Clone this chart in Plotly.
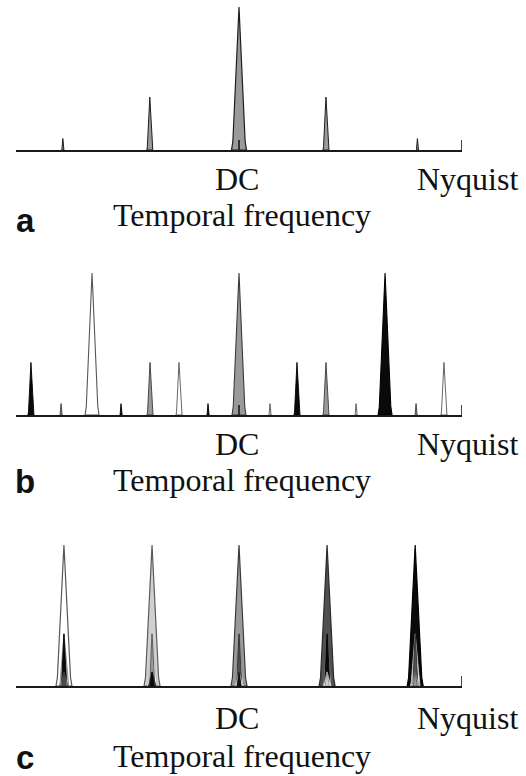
import plotly.graph_objects as go

# ---------------- data ----------------
TICK_VALS = [0.0, 1.0]
TICK_TEXT = ["DC", "Nyquist"]
AXIS_TITLE = "Temporal frequency"
PANEL_LETTERS = ["a", "b", "c"]

# panel a: DC peak with its harmonics
A_POS = [-0.79, -0.40, 0.0, 0.39, 0.80]
A_HEIGHT = [0.08, 0.37, 1.0, 0.37, 0.08]
A_COLOUR = ["grey", "grey", "grey", "grey", "grey"]

# panel b: three components (white, grey, black) with their side peaks
B_POS = [-0.933, -0.798, -0.659, -0.529, -0.399, -0.269, -0.139, 0.0,
         0.139, 0.260, 0.390, 0.525, 0.655, 0.794, 0.919]
B_HEIGHT = [0.37, 0.08, 1.0, 0.08, 0.37, 0.37, 0.08, 1.0,
            0.08, 0.37, 0.37, 0.08, 1.0, 0.08, 0.37]
B_COLOUR = ["black", "grey", "white", "black", "grey", "white", "black", "grey",
            "white", "black", "grey", "white", "black", "grey", "white"]

# panel c: five components superimposed at five frequencies
C_POS = [-0.785, -0.39, 0.0, 0.395, 0.79]
C_TALL_COLOUR = ["white", "lightgrey", "grey", "darkgrey", "black"]
C_MEDIUM_COLOURS = [["lightgrey", "black"], ["white", "grey"], ["lightgrey", "darkgrey"],
                    ["grey", "black"], ["white", "darkgrey"]]
C_TINY_COLOURS = [["grey", "darkgrey"], ["darkgrey", "black"], ["white", "black"],
                  ["white", "lightgrey"], ["lightgrey", "grey"]]
C_TALL_H = 1.0
C_MEDIUM_H = 0.37
C_TINY_H = 0.10

# ---------------- style ----------------
W, H = 526, 776
X_LEFT_PX, X_RIGHT_PX = 16, 462
PX_PER_UNIT = (X_RIGHT_PX - X_LEFT_PX) / 2.0
AXIS_PX = [150, 415, 686]      # vertical position of each baseline
TOP_PX = [7, 273, 545]         # apex of tallest peak
DC_OFF = [42, 42, 45]          # baseline offsets of the texts below each axis
TITLE_OFF = [78, 78, 83]
LETTER_OFF = [84, 80, 85]
YMAX = 1.04
FILL = {"white": "#ffffff", "lightgrey": "#d0d0d0", "grey": "#9a9a9a",
        "darkgrey": "#505050", "black": "#0a0a0a"}
EDGE = {"white": "#555555", "lightgrey": "#5a5a5a", "grey": "#3a3a3a",
        "darkgrey": "#2a2a2a", "black": "#000000"}
EDGE_C = {"white": "#bdbdbd", "lightgrey": "#8a8a8a", "grey": "#555555",
          "darkgrey": "#2e2e2e", "black": "#000000"}
SERIF = "Liberation Serif, Times New Roman, serif"
SANS = "Liberation Sans, Arial, sans-serif"


def halfwidth(h, big=7.5, mid=3.0, small=1.1):
    if h >= 0.9:
        return big / PX_PER_UNIT
    if h >= 0.2:
        return mid / PX_PER_UNIT
    return small / PX_PER_UNIT


def peak_trace(c, h, colour, w, axis_idx, lw=1.2, edge=None):
    xs = [c - w, c - 0.82 * w, c, c + 0.82 * w, c + w, c - w]
    ys = [0, 0.06 * h, h, 0.06 * h, 0, 0]
    suffix = "" if axis_idx == 1 else str(axis_idx)
    return go.Scatter(x=xs, y=ys, mode="lines", fill="toself",
                      fillcolor=FILL[colour],
                      line=dict(color=edge or "#1e1e1e", width=lw),
                      xaxis="x" + suffix, yaxis="y" + suffix,
                      hoverinfo="skip", showlegend=False)


fig = go.Figure()

# panel a
for p, h, c in zip(A_POS, A_HEIGHT, A_COLOUR):
    fig.add_trace(peak_trace(p, h, c, halfwidth(h), 1, lw=1.2 if h > 0.9 else 1.0))

# panel b
for p, h, c in zip(B_POS, B_HEIGHT, B_COLOUR):
    lw = 1.1 if h > 0.9 else 0.9
    fig.add_trace(peak_trace(p, h, c, halfwidth(h, big=7.0), 2, lw=lw, edge=EDGE[c]))

# panel c
for p, c in zip(C_POS, C_TALL_COLOUR):
    fig.add_trace(peak_trace(p, C_TALL_H, c, 8.0 / PX_PER_UNIT, 3, lw=1.2, edge=EDGE[c]))
for p, cols in zip(C_POS, C_MEDIUM_COLOURS):
    for k, c in enumerate(cols):
        fig.add_trace(peak_trace(p, C_MEDIUM_H, c, (4.8 - 2.0 * k) / PX_PER_UNIT, 3,
                                 lw=0.9, edge=EDGE_C[c]))
for p, cols in zip(C_POS, C_TINY_COLOURS):
    for k, c in enumerate(cols):
        fig.add_trace(peak_trace(p, C_TINY_H, c, (4.0 - 1.8 * k) / PX_PER_UNIT, 3,
                                 lw=0.8, edge=EDGE_C[c]))

layout = dict(width=W, height=H, margin=dict(l=0, r=0, t=0, b=0),
              paper_bgcolor="white", plot_bgcolor="rgba(0,0,0,0)", showlegend=False)
shapes = []
annotations = []
for i in range(3):
    suffix = "" if i == 0 else str(i + 1)
    ax_px, top_px = AXIS_PX[i], TOP_PX[i]
    unit = ax_px - top_px
    dom = [1 - ax_px / H, 1 - (ax_px - unit * YMAX) / H]
    layout["xaxis" + suffix] = dict(domain=[X_LEFT_PX / W, X_RIGHT_PX / W], range=[-1, 1],
                                    anchor="y" + suffix, showgrid=False, zeroline=False,
                                    showticklabels=False, ticks="", showline=True,
                                    linecolor="#1a1a1a", linewidth=2, fixedrange=True)
    layout["yaxis" + suffix] = dict(domain=dom, range=[0, YMAX], anchor="x" + suffix,
                                    visible=False, fixedrange=True)
    for tv in TICK_VALS:
        shapes.append(dict(type="line", xref="x" + suffix, yref="y" + suffix,
                           x0=tv, x1=tv, ysizemode="pixel", yanchor=0, y0=-9, y1=10,
                           line=dict(color="#1a1a1a", width=1.6), layer="above"))
    for tv, tt, xs in zip(TICK_VALS, TICK_TEXT, [-2, 5]):
        annotations.append(dict(text=tt, xref="x" + suffix, yref="paper", x=tv, xshift=xs,
                                 y=1 - (ax_px + DC_OFF[i] + 7) / H, yanchor="bottom",
                                 xanchor="center", showarrow=False,
                                 font=dict(family=SERIF, size=32, color="#111")))
    annotations.append(dict(text=AXIS_TITLE, xref="x" + suffix, yref="paper", x=0, xshift=3,
                            y=1 - (ax_px + TITLE_OFF[i] + 7) / H, yanchor="bottom",
                            xanchor="center", showarrow=False,
                            font=dict(family=SERIF, size=32, color="#111")))
    annotations.append(dict(text="<b>" + PANEL_LETTERS[i] + "</b>", xref="paper", yref="paper",
                            x=25 / W, y=1 - (ax_px + LETTER_OFF[i] + 7) / H, yanchor="bottom",
                            xanchor="center", showarrow=False,
                            font=dict(family=SANS, size=33, color="#111")))
layout["shapes"] = shapes
layout["annotations"] = annotations
fig.update_layout(**layout)
fig.write_html("out.html")
